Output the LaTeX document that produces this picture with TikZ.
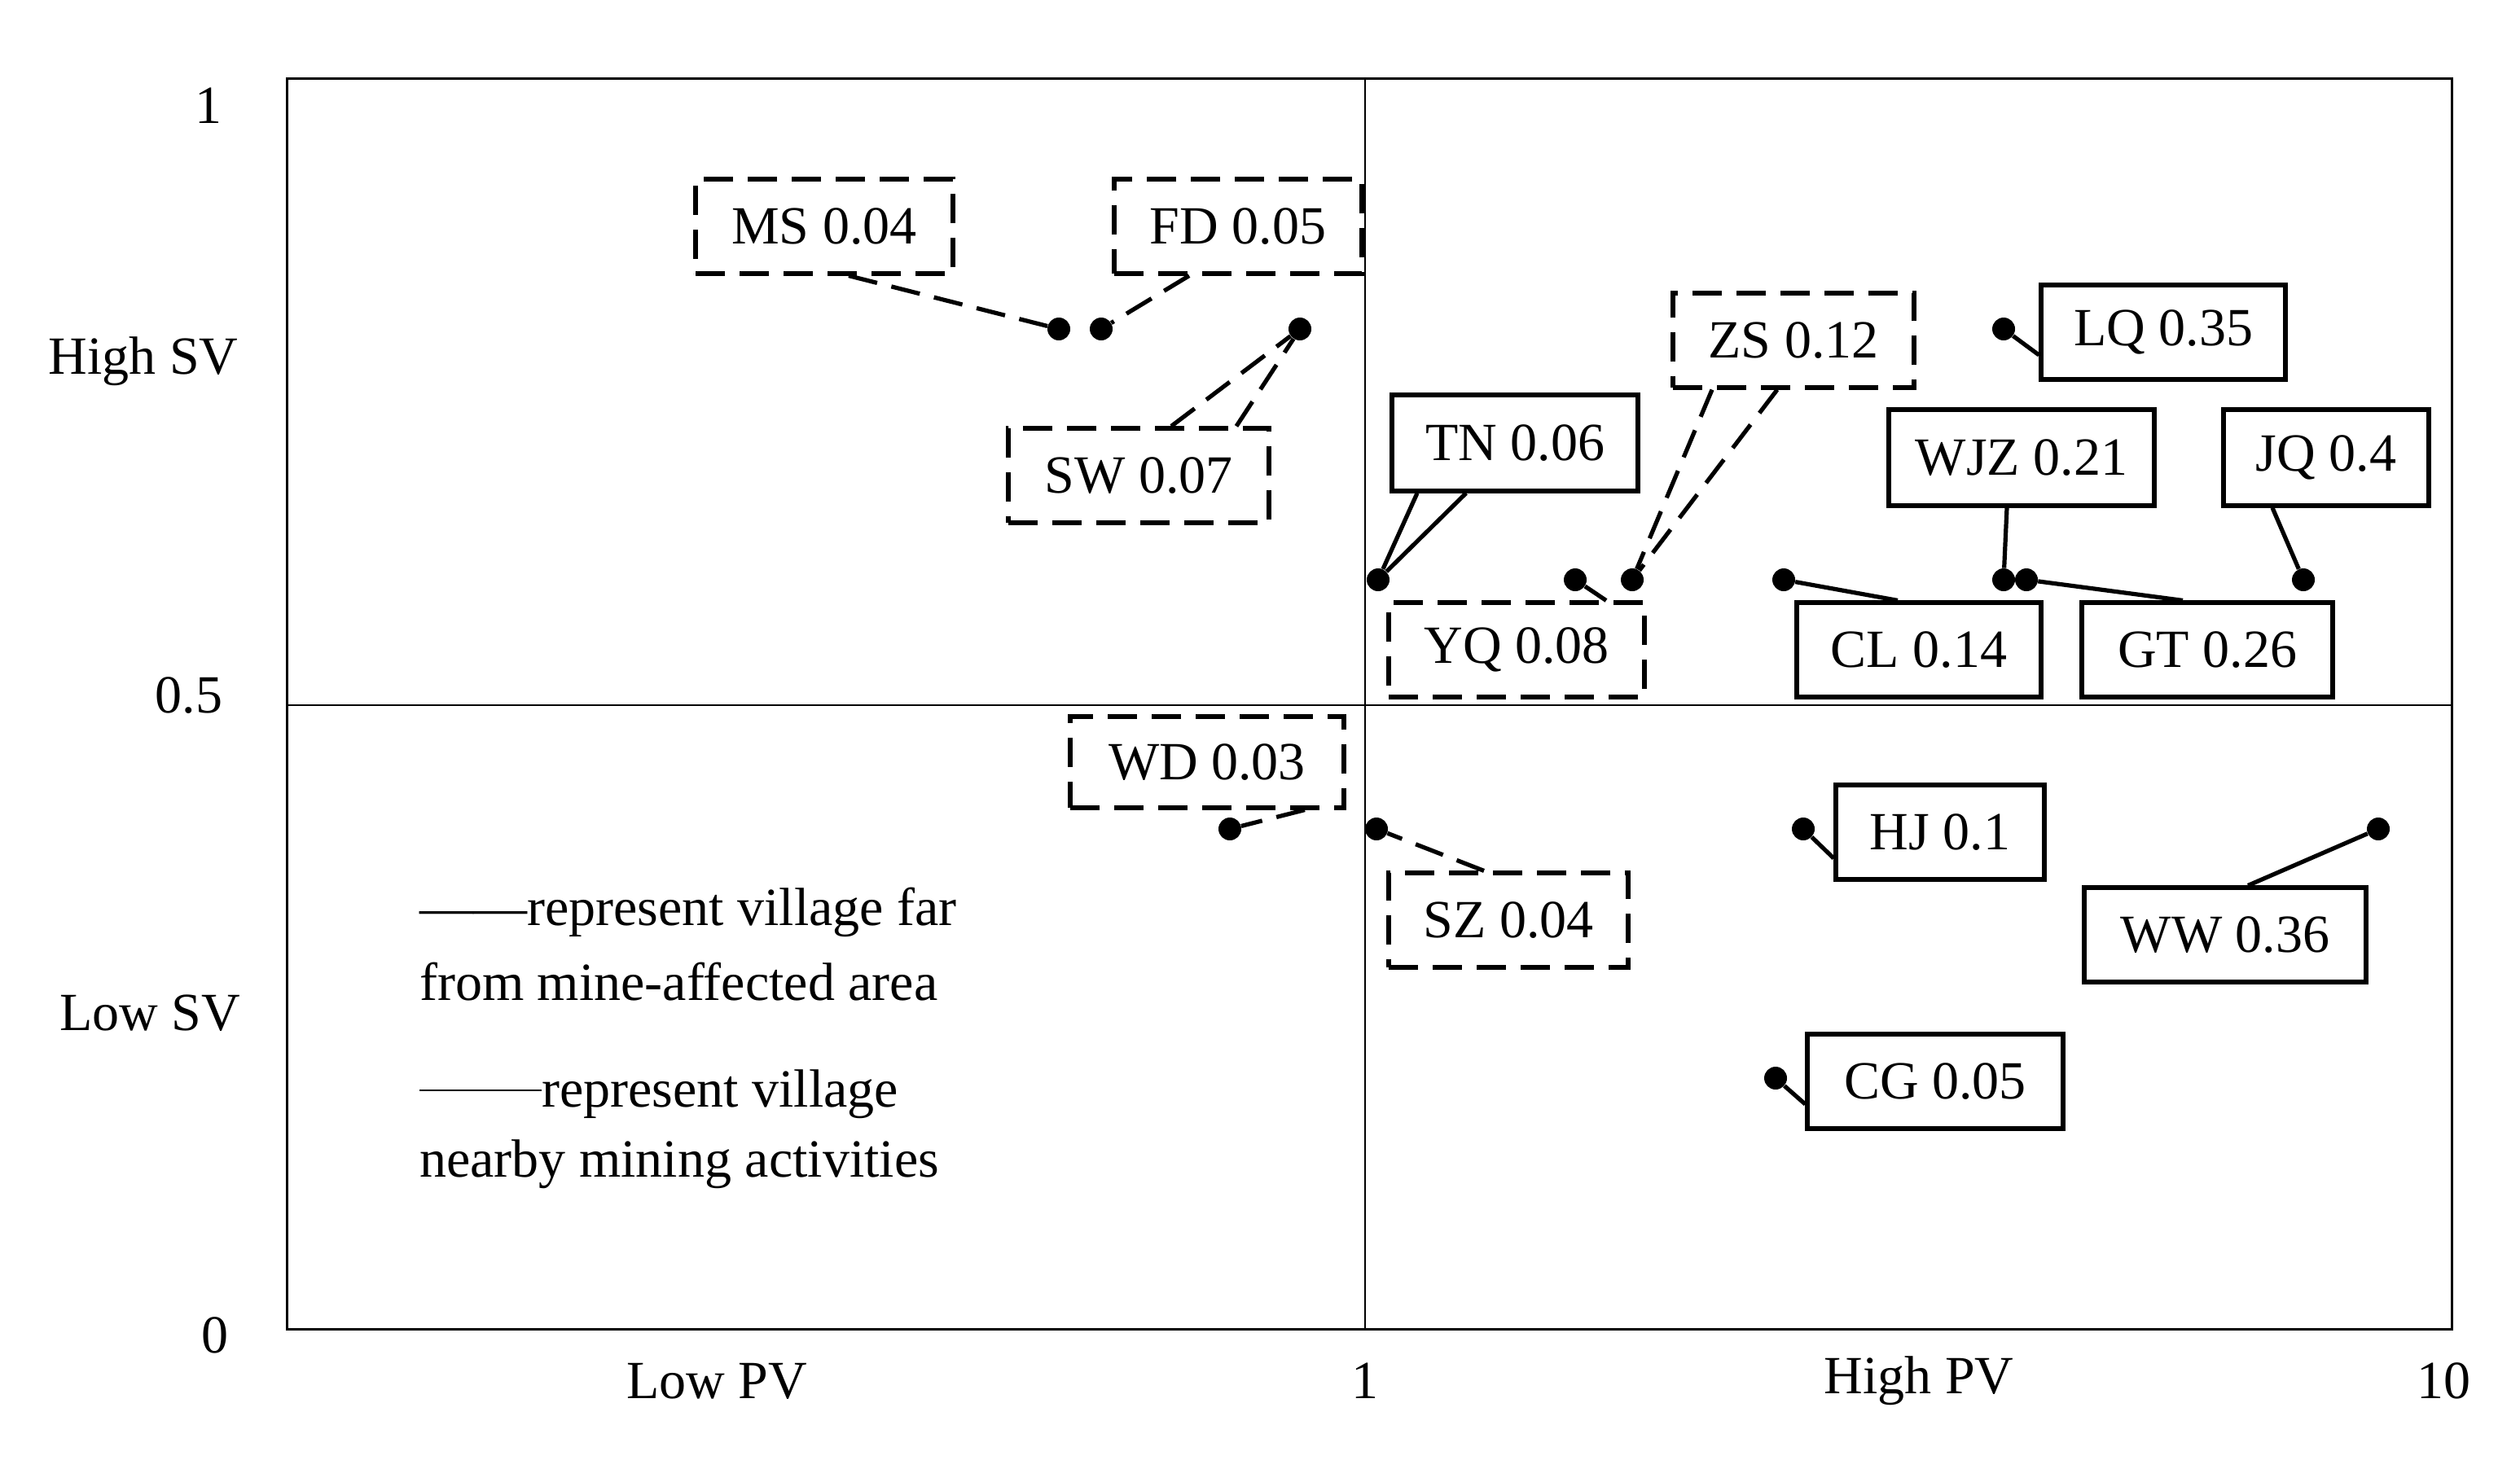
\documentclass[tikz,border=0pt]{standalone}
\usepackage{fontspec}
\setmainfont{Liberation Serif}
\begin{document}
\begin{tikzpicture}[x=1pt,y=-1pt,
  lab/.style={draw,line width=2.6pt,inner sep=0pt,font=\fontsize{33}{38}\selectfont},
  sol/.style={line width=2.6pt},
  dsh/.style={line width=2.6pt,dash pattern=on 18pt off 9pt},
  dot/.style={circle,fill=black,inner sep=0pt,minimum size=14pt},
  ax/.style={font=\fontsize{33}{38}\selectfont}]
\useasboundingbox (0,0) rectangle (1547,910);
\draw[line width=1.5pt] (176,48) rectangle (1505,816);
\draw[line width=1.2pt] (838,48) -- (838,816);
\draw[line width=1.2pt] (176,433) -- (1505,433);
\node[ax] (y1) at (128,65) {1};
\node[ax] (y05) at (116,427) {0.5};
\node[ax] (y0) at (132,820) {0};
\node[ax] (hsv) at (88,222) {High SV};
\node[ax] (lsv) at (92,622) {Low SV};
\node[ax] (lpv) at (440,848) {Low PV};
\node[ax] (x1) at (838,848) {1};
\node[ax] (hpv) at (1178,848) {High PV};
\node[ax] (x10) at (1500,848) {10};
\node[ax,anchor=west] (l1) at (254,560) {------represent village far};
\node[ax,anchor=west] (l2) at (254,603) {from mine-affected area};
\node[ax,anchor=west] (l3) at (254,672) {\rule[0.3em]{75pt}{1pt}represent village};
\node[ax,anchor=west] (l4) at (254,715) {nearby mining activities};
% dashed boxes
\newcommand{\bx}[6]{\node[lab,#6,minimum width=#4pt,minimum height=#5pt] (#1) at (#2,#3) {};}
\node[lab,dsh,minimum width=158pt,minimum height=58pt] (ms) at (506,139) {MS 0.04};
\node[lab,dsh,minimum width=152pt,minimum height=58pt] (fd) at (760,139) {FD 0.05};
\node[lab,dsh,minimum width=160pt,minimum height=58pt] (sw) at (699,292) {SW 0.07};
\node[lab,dsh,minimum width=157pt,minimum height=58pt] (yq) at (931,399) {YQ 0.08};
\node[lab,dsh,minimum width=148pt,minimum height=58pt] (zs) at (1101,209) {ZS 0.12};
\node[lab,dsh,minimum width=168pt,minimum height=56pt] (wd) at (741,468) {WD 0.03};
\node[lab,dsh,minimum width=147pt,minimum height=58pt] (sz) at (926,565) {SZ 0.04};
% solid boxes
\node[lab,sol,minimum width=151pt,minimum height=59pt] (tn) at (930,272) {TN 0.06};
\node[lab,sol,minimum width=150pt,minimum height=58pt] (lq) at (1328,204) {LQ 0.35};
\node[lab,sol,minimum width=163pt,minimum height=59pt] (wjz) at (1241,281) {WJZ 0.21};
\node[lab,sol,minimum width=126pt,minimum height=59pt] (jq) at (1428,281) {JQ 0.4};
\node[lab,sol,minimum width=150pt,minimum height=58pt] (cl) at (1178,399) {CL 0.14};
\node[lab,sol,minimum width=154pt,minimum height=58pt] (gt) at (1355,399) {GT 0.26};
\node[lab,sol,minimum width=128pt,minimum height=58pt] (hj) at (1191,511) {HJ 0.1};
\node[lab,sol,minimum width=173pt,minimum height=58pt] (ww) at (1366,574) {WW 0.36};
\node[lab,sol,minimum width=157pt,minimum height=58pt] (cg) at (1188,664) {CG 0.05};
% dots
\node[dot] (pms) at (650,202) {};
\node[dot] (pfd) at (676,202) {};
\node[dot] (psw) at (798,202) {};
\node[dot] (ptn) at (846,356) {};
\node[dot] (pyq) at (967,356) {};
\node[dot] (pzs) at (1002,356) {};
\node[dot] (plq) at (1230,202) {};
\node[dot] (pwjz) at (1230,356) {};
\node[dot] (pjq) at (1414,356) {};
\node[dot] (pcl) at (1095,356) {};
\node[dot] (pgt) at (1244,356) {};
\node[dot] (pwd) at (755,509) {};
\node[dot] (psz) at (845,509) {};
\node[dot] (phj) at (1107,509) {};
\node[dot] (pww) at (1460,509) {};
\node[dot] (pcg) at (1090,662) {};
% leaders
\draw[dsh] ([xshift=15pt]ms.south) -- (pms);
\draw[dsh] ([xshift=-30pt]fd.south) -- (pfd);
\draw[dsh] ([xshift=20pt]sw.north) -- (psw);
\draw[dsh] ([xshift=60pt]sw.north) -- (psw);
\draw[dsh] ([xshift=55pt]yq.north) -- (pyq);
\draw[dsh] ([xshift=-50pt]zs.south) -- (pzs);
\draw[dsh] ([xshift=-10pt]zs.south) -- (pzs);
\draw[dsh] ([xshift=60pt]wd.south) -- (pwd);
\draw[dsh] ([xshift=-15pt]sz.north) -- (psz);
\draw[sol] ([xshift=-60pt]tn.south) -- (ptn);
\draw[sol] ([xshift=-30pt]tn.south) -- (ptn);
\draw[sol] ([yshift=-14pt]lq.west) -- (plq);
\draw[sol] ([xshift=-9pt]wjz.south) -- (pwjz);
\draw[sol] ([xshift=-33pt]jq.south) -- (pjq);
\draw[sol] ([xshift=-13pt]cl.north) -- (pcl);
\draw[sol] ([xshift=-15pt]gt.north) -- (pgt);
\draw[sol] ([yshift=-16pt]hj.west) -- (phj);
\draw[sol] ([xshift=14pt]ww.north) -- (pww);
\draw[sol] ([yshift=-14pt]cg.west) -- (pcg);
\end{tikzpicture}
\end{document}
